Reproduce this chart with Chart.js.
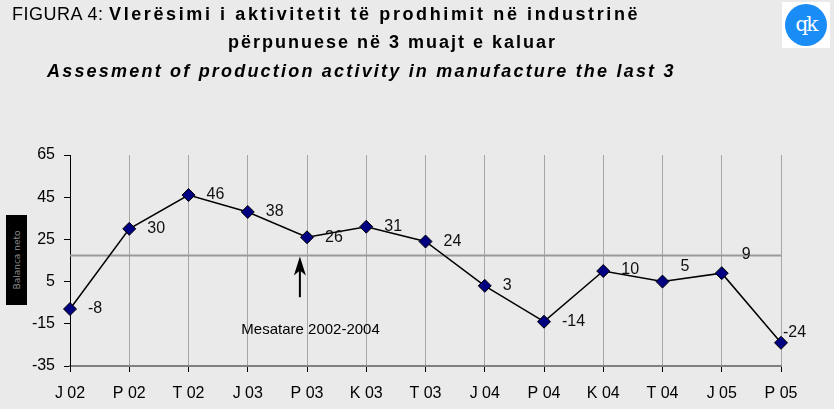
<!DOCTYPE html>
<html>
<head>
<meta charset="utf-8">
<script src="https://cdn.jsdelivr.net/npm/chart.js@4"></script>
<style>
  body { margin: 0; background: #eaeaea; }
  #wrap { position: relative; width: 834px; height: 409px; background: #eaeaea; overflow: hidden; }
  #chart { position: absolute; left: 0; top: 0; }
  .t { position: absolute; white-space: nowrap; font-family: "Liberation Sans", Arial, sans-serif; font-size: 18px; color: #000; letter-spacing: 0.5px; }
  .b { font-weight: bold; letter-spacing: 2.6px; }
  #logo { position: absolute; left: 782px; top: 2px; width: 48px; height: 46px; background: #fff; }
  #logo div { position: absolute; left: 3px; top: 2px; width: 42px; height: 42px; border-radius: 50%; background: #1a8cf5;
    color: #fff; font-family: "DejaVu Serif", serif; font-size: 20px; line-height: 40px; text-align: center; letter-spacing: -2px; }
  #ylab { position: absolute; left: 6px; top: 215px; width: 21px; height: 90px; background: #000; }
  #ylab span { position: absolute; left: 50%; top: 50%; transform: translate(-50%, -50%) rotate(-90deg); color: #8a8a8a;
    font-family: "DejaVu Sans", sans-serif; font-size: 9px; white-space: nowrap; }
</style>
</head>
<body>
<div id="wrap">
  <canvas id="chart" width="834" height="409"></canvas>
  <div class="t" style="left:12px; top:4px;">FIGURA 4: <span class="b">Vlerësimi i aktivitetit të prodhimit në industrinë</span></div>
  <div class="t b" style="left:228px; top:32px; letter-spacing:2px;">përpunuese në 3 muajt e kaluar</div>
  <div class="t b" style="left:47px; top:61px; font-style:italic; letter-spacing:2.2px;">Assesment of production activity in manufacture the last 3</div>
  <div id="logo"><div>qk</div></div>
  <div id="ylab"><span>Balanca neto</span></div>
</div>
<script>
// kategorite (muajt) dhe vlerat
const months = ['J 02', 'P 02', 'T 02', 'J 03', 'P 03', 'K 03', 'T 03', 'J 04', 'P 04', 'K 04', 'T 04', 'J 05', 'P 05'];
const balance = [-8, 30, 46, 38, 26, 31, 24, 3, -14, 10, 5, 9, -24];
const averageValue = 17.4; // mesatarja 2002-2004
const yTicks = [-35, -15, 5, 25, 45, 65];
const averageLabel = 'Mesatare 2002-2004';

const fontFamily = '"Liberation Sans", Arial, sans-serif';

// vija e mesatares, shigjeta dhe etiketat e vlerave
const extras = {
    id: 'extras',
    beforeDatasetsDraw(chart) {
        const { ctx, chartArea, scales } = chart;
        const y = scales.y.getPixelForValue(averageValue);
        ctx.save();
        ctx.strokeStyle = '#9a9a9a';
        ctx.lineWidth = 2;
        ctx.beginPath();
        ctx.moveTo(chartArea.left, y);
        ctx.lineTo(chartArea.right, y);
        ctx.stroke();

        // shigjeta
        const ax = scales.x.getPixelForValue(3.88);
        const yBottom = scales.y.getPixelForValue(-2.4);
        ctx.strokeStyle = '#000';
        ctx.fillStyle = '#000';
        ctx.lineWidth = 2;
        ctx.beginPath();
        ctx.moveTo(ax, yBottom);
        ctx.lineTo(ax, y + 8);
        ctx.stroke();
        ctx.beginPath();
        ctx.moveTo(ax, y + 1);
        ctx.lineTo(ax + 6, y + 20);
        ctx.lineTo(ax, y + 15);
        ctx.lineTo(ax - 6, y + 20);
        ctx.closePath();
        ctx.fill();

        ctx.font = '15px ' + fontFamily;
        ctx.textAlign = 'center';
        ctx.textBaseline = 'middle';
        ctx.fillText(averageLabel, scales.x.getPixelForValue(4.06), scales.y.getPixelForValue(-18));
        ctx.restore();
    },
    afterDatasetsDraw(chart) {
        const { ctx } = chart;
        const meta = chart.getDatasetMeta(0);
        // disa etiketa jane levizur me dore
        const shiftY = { 9: -1, 10: -15, 11: -19, 12: -10 };
        const shiftX = { 11: 20, 12: 2 };
        ctx.save();
        ctx.font = '16px ' + fontFamily;
        ctx.fillStyle = '#111';
        ctx.textAlign = 'left';
        ctx.textBaseline = 'middle';
        meta.data.forEach((pt, i) => {
            const dx = shiftX[i] !== undefined ? shiftX[i] : 18;
            ctx.fillText(String(balance[i]), pt.x + dx, pt.y + (shiftY[i] || 0));
        });
        ctx.restore();
    }
};

new Chart(document.getElementById('chart'), {
    type: 'line',
    data: {
        labels: months,
        datasets: [{
            data: balance,
            borderColor: '#000',
            borderWidth: 1.5,
            tension: 0,
            pointStyle: 'rectRot',
            pointRadius: 6.5,
            pointBackgroundColor: '#000080',
            pointBorderColor: '#000',
            pointBorderWidth: 1
        }]
    },
    options: {
        responsive: false,
        animation: false,
        devicePixelRatio: 1,
        layout: { padding: { top: 155, right: 53, left: 0, bottom: 0 } },
        plugins: { legend: { display: false }, tooltip: { enabled: false } },
        scales: {
            x: {
                offset: false,
                grid: { color: '#a6a6a6', lineWidth: 1, tickColor: '#000', tickLength: 6 },
                border: { color: '#808080', width: 2 },
                ticks: { color: '#000', font: { family: fontFamily, size: 16 }, padding: 12, maxRotation: 0, autoSkip: false },
                afterFit(scale) { scale.height = 43; }
            },
            y: {
                min: -35,
                max: 65,
                afterBuildTicks(scale) { scale.ticks = yTicks.map(v => ({ value: v })); },
                grid: { drawOnChartArea: false, tickColor: '#000', tickLength: 6 },
                border: { color: '#000', width: 1 },
                ticks: { color: '#000', font: { family: fontFamily, size: 16 }, padding: 9 },
                afterFit(scale) { scale.width = 70; }
            }
        }
    },
    plugins: [extras]
});
</script>
</body>
</html>
